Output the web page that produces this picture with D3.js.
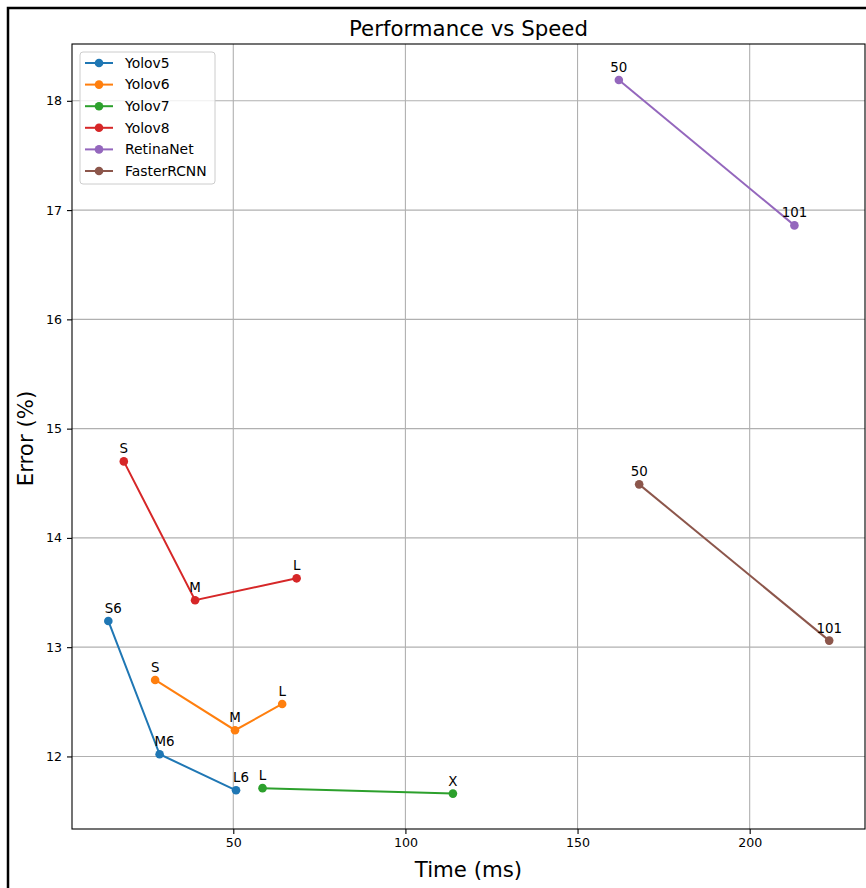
<!DOCTYPE html>
<html>
<head>
<meta charset="utf-8">
<script src="https://cdn.jsdelivr.net/npm/d3@7"></script>
<style>
  html, body { margin: 0; padding: 0; background: #fff; }
  svg { display: block; font-family: "DejaVu Sans", sans-serif; }
</style>
</head>
<body>
<script>
// Model families, their variant labels, inference time (ms) and error (%)
const seriesNames = ["Yolov5", "Yolov6", "Yolov7", "Yolov8", "RetinaNet", "FasterRCNN"];
const seriesColors = ["#1f77b4", "#ff7f0e", "#2ca02c", "#d62728", "#9467bd", "#8c564b"];

const yolov5Labels = ["S6", "M6", "L6"];
const yolov5Time   = [13.7, 28.6, 50.8];
const yolov5Error  = [13.24, 12.02, 11.69];

const yolov6Labels = ["S", "M", "L"];
const yolov6Time   = [27.3, 50.5, 64.2];
const yolov6Error  = [12.70, 12.24, 12.48];

const yolov7Labels = ["L", "X"];
const yolov7Time   = [58.5, 113.8];
const yolov7Error  = [11.71, 11.66];

const yolov8Labels = ["S", "M", "L"];
const yolov8Time   = [18.2, 38.9, 68.4];
const yolov8Error  = [14.70, 13.43, 13.63];

const retinaLabels = ["50", "101"];
const retinaTime   = [162.0, 213.0];
const retinaError  = [18.19, 16.86];

const fasterLabels = ["50", "101"];
const fasterTime   = [167.9, 223.1];
const fasterError  = [14.49, 13.06];

const xTicks = [50, 100, 150, 200];
const yTicks = [12, 13, 14, 15, 16, 17, 18];

const seriesData = [
  [yolov5Labels, yolov5Time, yolov5Error],
  [yolov6Labels, yolov6Time, yolov6Error],
  [yolov7Labels, yolov7Time, yolov7Error],
  [yolov8Labels, yolov8Time, yolov8Error],
  [retinaLabels, retinaTime, retinaError],
  [fasterLabels, fasterTime, fasterError]
].map(([labels, t, e], i) => ({
  name: seriesNames[i],
  color: seriesColors[i],
  points: labels.map((lab, j) => ({ label: lab, x: t[j], y: e[j] }))
}));

const W = 866, H = 888;
const plot = { left: 72, right: 865, top: 44, bottom: 829 };

const svg = d3.select("body").append("svg").attr("width", W).attr("height", H);

// outer frame
svg.append("rect")
  .attr("x", 8).attr("y", 8).attr("width", W + 20).attr("height", H + 20)
  .attr("fill", "none").attr("stroke", "#000").attr("stroke-width", 2.5);

const x = d3.scaleLinear().domain([3.15, 233.5]).range([plot.left, plot.right]);
const y = d3.scaleLinear().domain([11.336, 18.52]).range([plot.bottom, plot.top]);

// grid
const grid = svg.append("g");
grid.selectAll("line.gx").data(xTicks).join("line")
  .attr("x1", d => x(d)).attr("x2", d => x(d))
  .attr("y1", plot.top).attr("y2", plot.bottom)
  .attr("stroke", "#b0b0b0").attr("stroke-width", 1.1);
grid.selectAll("line.gy").data(yTicks).join("line")
  .attr("y1", d => y(d)).attr("y2", d => y(d))
  .attr("x1", plot.left).attr("x2", plot.right)
  .attr("stroke", "#b0b0b0").attr("stroke-width", 1.1);

// axes
const xAxis = d3.axisBottom(x).tickValues(xTicks).tickSize(5).tickPadding(4).tickFormat(d3.format("d"));
const yAxis = d3.axisLeft(y).tickValues(yTicks).tickSize(5).tickPadding(5).tickFormat(d3.format("d"));

const gx = svg.append("g").attr("transform", `translate(0,${plot.bottom})`).call(xAxis);
const gy = svg.append("g").attr("transform", `translate(${plot.left},0)`).call(yAxis);
[gx, gy].forEach(g => {
  g.select(".domain").remove();
  g.selectAll(".tick line").attr("stroke", "#000").attr("stroke-width", 1.1);
  g.selectAll(".tick text").attr("fill", "#000").style("font-size", "12.6px")
    .style("font-family", "'DejaVu Sans', sans-serif");
});

// spines
svg.append("rect")
  .attr("x", plot.left).attr("y", plot.top)
  .attr("width", plot.right - plot.left).attr("height", plot.bottom - plot.top)
  .attr("fill", "none").attr("stroke", "#000").attr("stroke-width", 1.1);

// series lines, markers and variant labels (Yolov5 labels sit a little to the right)
const labelShift = { Yolov5: 5 };
const line = d3.line().x(d => x(d.x)).y(d => y(d.y));
const series = svg.append("g").selectAll("g").data(seriesData).join("g");
series.append("path")
  .attr("d", d => line(d.points))
  .attr("fill", "none").attr("stroke", d => d.color).attr("stroke-width", 2);
series.each(function (s) {
  const g = d3.select(this);
  const dx = labelShift[s.name] || 0;
  g.selectAll("circle").data(s.points).join("circle")
    .attr("cx", d => x(d.x)).attr("cy", d => y(d.y)).attr("r", 4.3)
    .attr("fill", s.color);
  g.selectAll("text").data(s.points).join("text")
    .attr("x", d => x(d.x) + dx).attr("y", d => y(d.y) - 8)
    .attr("text-anchor", "middle")
    .style("font-size", "13.4px").attr("fill", "#000")
    .text(d => d.label);
});

// title and axis labels
svg.append("text").attr("x", (plot.left + plot.right) / 2).attr("y", 36)
  .attr("text-anchor", "middle").style("font-size", "21.3px").text("Performance vs Speed");
svg.append("text").attr("x", (plot.left + plot.right) / 2).attr("y", 877)
  .attr("text-anchor", "middle").style("font-size", "21.3px").text("Time (ms)");
svg.append("text")
  .attr("transform", `translate(33,${(plot.top + plot.bottom) / 2 + 2}) rotate(-90)`)
  .attr("text-anchor", "middle").style("font-size", "21.3px").text("Error (%)");

// legend
const legend = svg.append("g").attr("transform", "translate(80,52)");
legend.append("rect")
  .attr("width", 135).attr("height", 132).attr("rx", 3)
  .attr("fill", "#fff").attr("fill-opacity", 0.8)
  .attr("stroke", "#cccccc").attr("stroke-width", 1);
const rows = legend.selectAll("g.row").data(seriesData).join("g")
  .attr("transform", (d, i) => `translate(0,${11 + i * 21.6})`);
rows.append("line").attr("x1", 5).attr("x2", 33)
  .attr("stroke", d => d.color).attr("stroke-width", 2);
rows.append("circle").attr("cx", 19).attr("r", 4.3).attr("fill", d => d.color);
rows.append("text").attr("x", 45).attr("dy", "0.35em")
  .style("font-size", "13.9px").attr("fill", "#000").text(d => d.name);
</script>
</body>
</html>
